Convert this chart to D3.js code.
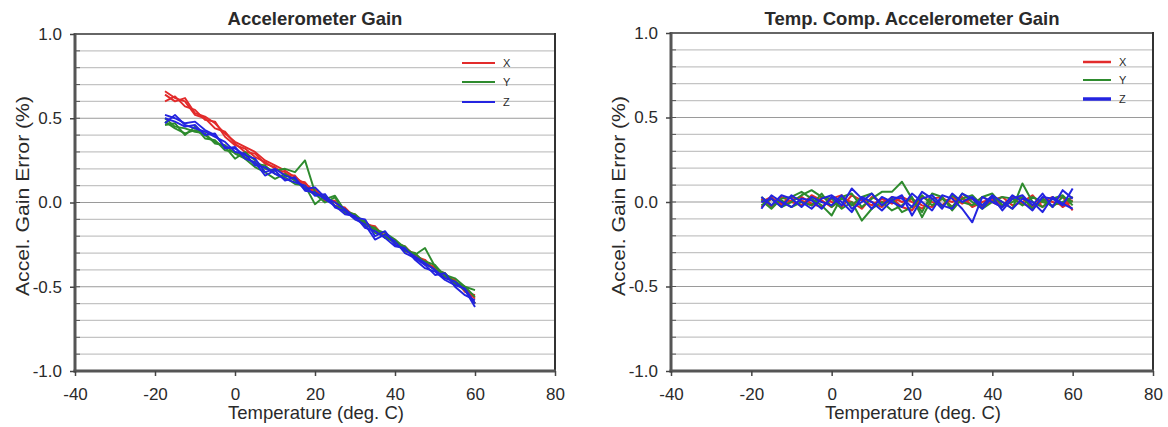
<!DOCTYPE html>
<html>
<head>
<meta charset="utf-8">
<script src="https://cdn.jsdelivr.net/npm/d3@7"></script>
<style>
  body { margin: 0; background: #fff; }
  text { font-family: Arial, "Liberation Sans", sans-serif; fill: #2a2a2a; }
</style>
</head>
<body>
<svg id="chart" width="1168" height="427"></svg>
<script>
// temperature steps (deg C)
const temps = [-17.5,-15,-12.5,-10,-7.5,-5,-2.5,0,2.5,5,7.5,10,12.5,15,17.5,20,
               22.5,25,27.5,30,32.5,35,37.5,40,42.5,45,47.5,50,52.5,55,57.5,60];

const xTicks = [-40, -20, 0, 20, 40, 60, 80];
const yTicks = [-1.0, -0.5, 0.0, 0.5, 1.0];
const axisNames = ["X", "Y", "Z"];

// raw gain error (%) -- three units per axis
const gainX = [
  [0.64,0.60,0.62,0.53,0.51,0.47,0.41,0.36,0.33,0.30,0.25,0.22,0.19,0.15,0.11,0.07,0.03,0.00,-0.04,-0.08,-0.12,-0.15,-0.20,-0.23,-0.27,-0.31,-0.35,-0.39,-0.43,-0.47,-0.51,-0.57],
  [0.60,0.63,0.57,0.55,0.49,0.48,0.39,0.34,0.32,0.27,0.24,0.20,0.18,0.13,0.12,0.05,0.04,-0.02,-0.03,-0.09,-0.11,-0.17,-0.18,-0.24,-0.26,-0.32,-0.34,-0.40,-0.42,-0.49,-0.50,-0.60],
  [0.66,0.62,0.60,0.52,0.50,0.44,0.42,0.35,0.30,0.29,0.23,0.21,0.16,0.16,0.09,0.08,0.01,0.01,-0.06,-0.07,-0.13,-0.14,-0.21,-0.22,-0.29,-0.30,-0.37,-0.38,-0.44,-0.46,-0.53,-0.55]
];
const gainY = [
  [0.48,0.44,0.41,0.43,0.40,0.36,0.33,0.26,0.30,0.25,0.20,0.19,0.20,0.18,0.25,0.06,0.02,0.04,-0.05,-0.07,-0.12,-0.16,-0.18,-0.22,-0.27,-0.31,-0.27,-0.38,-0.43,-0.45,-0.50,-0.52],
  [0.46,0.47,0.40,0.45,0.38,0.37,0.31,0.30,0.27,0.23,0.22,0.17,0.15,0.11,0.10,-0.01,0.04,-0.02,-0.04,-0.10,-0.11,-0.18,-0.20,-0.24,-0.26,-0.33,-0.35,-0.37,-0.44,-0.47,-0.50,-0.56],
  [0.50,0.45,0.44,0.42,0.41,0.35,0.34,0.29,0.26,0.21,0.18,0.14,0.17,0.13,0.08,0.05,0.00,0.03,-0.06,-0.08,-0.14,-0.15,-0.21,-0.23,-0.29,-0.30,-0.36,-0.40,-0.42,-0.48,-0.52,-0.60]
];
const gainZ = [
  [0.52,0.50,0.47,0.48,0.43,0.40,0.33,0.32,0.28,0.26,0.18,0.20,0.16,0.14,0.08,0.09,0.03,0.00,-0.04,-0.09,-0.10,-0.20,-0.17,-0.25,-0.28,-0.32,-0.36,-0.40,-0.45,-0.47,-0.52,-0.62],
  [0.47,0.52,0.46,0.44,0.42,0.39,0.36,0.30,0.29,0.22,0.21,0.17,0.14,0.12,0.10,0.04,0.05,-0.03,-0.05,-0.10,-0.13,-0.22,-0.19,-0.23,-0.30,-0.33,-0.37,-0.43,-0.42,-0.50,-0.55,-0.58],
  [0.50,0.48,0.45,0.46,0.40,0.41,0.32,0.33,0.26,0.24,0.16,0.19,0.13,0.15,0.07,0.06,0.02,-0.02,-0.07,-0.08,-0.15,-0.17,-0.21,-0.26,-0.27,-0.34,-0.39,-0.41,-0.46,-0.49,-0.51,-0.60]
];

// temperature compensated gain error (%)
const compX = [
  [0.02,-0.03,0.03,0.00,-0.02,0.04,0.01,-0.03,0.02,0.00,-0.04,0.03,0.00,0.02,-0.03,-0.05,0.03,0.00,-0.02,0.03,-0.01,0.02,-0.03,0.01,0.03,-0.02,0.00,0.04,-0.03,0.02,0.03,-0.05],
  [-0.03,0.02,-0.01,0.03,0.01,-0.02,0.03,0.00,-0.03,0.04,0.01,-0.02,0.02,-0.01,0.03,0.00,-0.04,0.02,0.03,-0.03,0.02,-0.02,0.03,0.00,-0.03,0.02,-0.01,-0.03,0.02,0.00,-0.02,0.03],
  [0.00,0.03,-0.02,0.01,0.03,-0.01,-0.03,0.02,0.04,-0.02,0.02,0.00,-0.03,0.03,0.00,0.02,-0.02,-0.03,0.02,0.00,0.03,-0.03,0.00,0.02,-0.02,0.03,0.02,-0.02,0.00,0.03,-0.03,0.01]
];
const compY = [
  [0.01,-0.04,0.02,0.03,0.06,0.02,-0.02,-0.08,0.03,0.05,-0.03,0.02,0.06,0.06,0.12,0.02,-0.06,0.05,0.03,-0.05,0.02,0.04,-0.02,0.03,0.00,-0.04,0.11,0.00,-0.03,0.02,0.04,-0.02],
  [-0.02,0.02,-0.03,0.00,0.04,0.07,0.03,0.02,-0.04,0.00,-0.11,-0.04,0.00,-0.05,-0.02,0.03,-0.09,0.02,-0.03,0.04,0.00,-0.02,0.03,0.05,-0.02,0.00,0.03,-0.04,0.02,-0.03,0.03,0.00],
  [0.03,-0.02,0.01,-0.03,0.00,-0.02,0.05,-0.03,0.02,-0.02,0.03,0.05,-0.02,0.02,-0.06,-0.03,0.04,-0.02,0.02,-0.03,0.05,0.00,-0.04,0.00,0.03,0.02,-0.02,0.03,0.00,-0.02,0.00,0.03]
];
const compZ = [
  [-0.04,0.04,0.00,-0.03,0.02,0.01,-0.04,0.03,-0.02,0.08,0.02,-0.04,0.03,0.00,-0.03,0.05,0.00,-0.05,0.04,0.02,-0.04,-0.12,0.03,0.00,-0.03,0.04,0.00,-0.05,0.03,0.02,-0.02,0.08],
  [0.03,-0.02,0.04,0.02,-0.03,0.03,0.00,-0.02,0.04,-0.04,0.00,0.05,-0.02,0.03,0.02,-0.03,0.06,0.02,-0.04,0.05,0.00,0.03,-0.02,0.04,0.00,-0.04,0.02,0.00,-0.06,0.03,-0.01,-0.04],
  [0.00,0.02,-0.03,0.04,0.00,-0.04,0.02,0.04,0.00,-0.06,0.03,0.00,-0.05,0.01,0.04,-0.08,0.02,0.04,-0.02,-0.04,0.05,0.02,-0.04,0.03,-0.05,0.02,0.04,-0.02,0.05,-0.03,0.07,0.02]
];

const colors = { X: "#e22b2b", Y: "#2e8b2e", Z: "#2424e0" };

const panels = [
  { title: "Accelerometer Gain", left: 75, right: 555, top: 34, bottom: 371,
    data: { X: gainX, Y: gainY, Z: gainZ },
    leg: { x1: 462, x2: 495, lx: 503, ys: [63, 82, 102], w: [2, 2, 2] }, lw: 1.9 },
  { title: "Temp. Comp. Accelerometer Gain", left: 671, right: 1153, top: 33, bottom: 371,
    data: { X: compX, Y: compY, Z: compZ },
    leg: { x1: 1083, x2: 1111, lx: 1119, ys: [62, 80, 99], w: [2.5, 2, 3.5] }, lw: 2 }
];

const svg = d3.select("#chart");

panels.forEach(p => {
  const x = d3.scaleLinear().domain([-40, 80]).range([p.left, p.right]);
  const y = d3.scaleLinear().domain([-1, 1]).range([p.bottom, p.top]);
  const g = svg.append("g");

  // horizontal grid every 0.1
  const grid = d3.range(-9, 10).map(k => k / 10);
  g.selectAll(".grid").data(grid).enter().append("line")
    .attr("x1", p.left).attr("x2", p.right)
    .attr("y1", d => y(d)).attr("y2", d => y(d))
    .attr("stroke", d => Math.abs(d * 10) % 5 === 0 ? "#9a9a9a" : "#c4c4c4")
    .attr("stroke-width", 1.2);

  // minor ticks inside on the left axis
  g.selectAll(".minor").data(grid).enter().append("line")
    .attr("x1", p.left).attr("x2", p.left + 5)
    .attr("y1", d => y(d)).attr("y2", d => y(d))
    .attr("stroke", "#555").attr("stroke-width", 1);

  // series
  const line = d3.line().x((d, i) => x(temps[i])).y(d => y(d));
  axisNames.forEach(a => {
    p.data[a].forEach(vals => {
      g.append("path").attr("d", line(vals))
        .attr("fill", "none").attr("stroke", colors[a])
        .attr("stroke-width", p.lw).attr("stroke-linejoin", "round");
    });
  });

  // frame
  g.append("line").attr("x1", p.left).attr("x2", p.right).attr("y1", p.top).attr("y2", p.top)
    .attr("stroke", "#666").attr("stroke-width", 2);
  g.append("line").attr("x1", p.right).attr("x2", p.right).attr("y1", p.top - 1).attr("y2", p.bottom + 1)
    .attr("stroke", "#333").attr("stroke-width", 2);
  g.append("line").attr("x1", p.left).attr("x2", p.left).attr("y1", p.top - 1).attr("y2", p.bottom + 1.5)
    .attr("stroke", "#555").attr("stroke-width", 3);
  g.append("line").attr("x1", p.left - 1.5).attr("x2", p.right + 1).attr("y1", p.bottom).attr("y2", p.bottom)
    .attr("stroke", "#555").attr("stroke-width", 3);

  // axes
  const ax = g.append("g").attr("transform", `translate(0,${p.bottom})`)
    .call(d3.axisBottom(x).tickValues(xTicks).tickFormat(d => String(d)).tickSize(5).tickPadding(12));
  ax.select(".domain").remove();
  ax.selectAll("line").attr("stroke", "#444").attr("stroke-width", 1.5);
  ax.selectAll("text").attr("font-size", 17).attr("fill", "#2a2a2a")
    .style("font-family", "Arial, 'Liberation Sans', sans-serif");

  const ay = g.append("g").attr("transform", `translate(${p.left},0)`)
    .call(d3.axisLeft(y).tickValues(yTicks).tickFormat(d => d.toFixed(1)).tickSize(5).tickPadding(8));
  ay.select(".domain").remove();
  ay.selectAll("line").attr("stroke", "#444").attr("stroke-width", 1.5);
  ay.selectAll("text").attr("font-size", 17).attr("fill", "#2a2a2a")
    .style("font-family", "Arial, 'Liberation Sans', sans-serif");

  // titles
  const cx = (p.left + p.right) / 2;
  g.append("text").attr("x", cx).attr("y", 25).attr("text-anchor", "middle")
    .attr("font-size", 18.5).attr("font-weight", "bold").text(p.title);
  g.append("text").attr("x", cx + 1).attr("y", 419).attr("text-anchor", "middle")
    .attr("font-size", 18.5).text("Temperature (deg. C)");
  g.append("text")
    .attr("transform", `translate(${p.left - 53},196) rotate(-90)`)
    .attr("text-anchor", "middle").attr("dy", "0.35em")
    .attr("font-size", 19).attr("textLength", 200).attr("lengthAdjust", "spacingAndGlyphs")
    .text("Accel. Gain Error (%)");

  // legend
  axisNames.forEach((a, i) => {
    const ly = p.leg.ys[i];
    g.append("line").attr("x1", p.leg.x1).attr("x2", p.leg.x2).attr("y1", ly).attr("y2", ly)
      .attr("stroke", colors[a]).attr("stroke-width", p.leg.w[i]);
    g.append("text").attr("x", p.leg.lx).attr("y", ly).attr("dy", "0.35em")
      .attr("font-size", 11).attr("fill", "#444").text(a);
  });
});
</script>
</body>
</html>
